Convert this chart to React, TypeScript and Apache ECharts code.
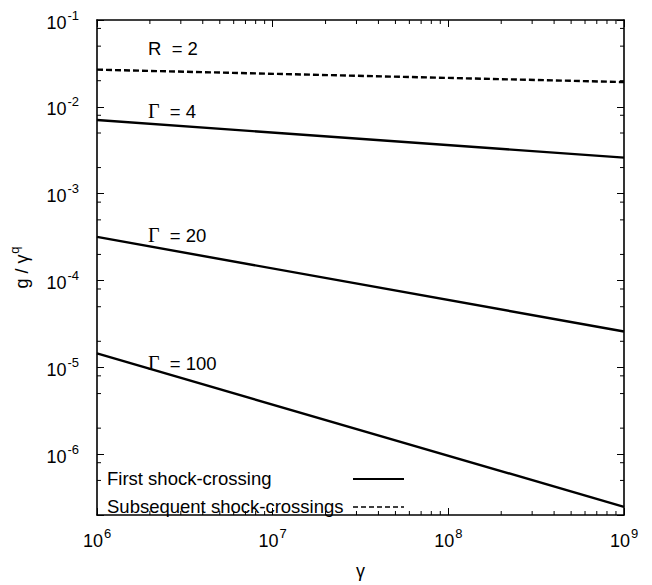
import React, { useEffect, useRef } from "react";
import * as echarts from "echarts";

const X_MIN = 1e6;
const X_MAX = 1e9;
const Y_MIN = 2e-7;
const Y_MAX = 1e-1;

const xEnds = [1e6, 1e9];
const r2Values = [0.0268, 0.0193];
const gamma4Values = [0.00706, 0.0026];
const gamma20Values = [3.18e-4, 2.59e-5];
const gamma100Values = [1.45e-5, 2.48e-7];

const xMinorTicks = [
  2e6, 3e6, 4e6, 5e6, 6e6, 7e6, 8e6, 9e6,
  2e7, 3e7, 4e7, 5e7, 6e7, 7e7, 8e7, 9e7,
  2e8, 3e8, 4e8, 5e8, 6e8, 7e8, 8e8, 9e8,
];
const yMinorTicks = [
  5e-7, 8e-7,
  2e-6, 5e-6, 8e-6,
  2e-5, 5e-5, 8e-5,
  2e-4, 5e-4, 8e-4,
  2e-3, 5e-3, 8e-3,
  2e-2, 5e-2, 8e-2,
];

const legendLabels = ["First shock-crossing", "Subsequent shock-crossings"];
const curveLabels = ["R  = 2", "{g|Γ}  = 4", "{g|Γ}  = 20", "{g|Γ}  = 100"];

const FONT = "Liberation Sans, Arial, Helvetica, sans-serif";

function logLabel(v: number) {
  const e = Math.log10(v);
  const r = Math.round(e);
  if (Math.abs(e - r) > 1e-6) return "";
  return `{b|10}{s|${r}}`;
}

const labelRich = {
  b: { fontSize: 18, fontFamily: FONT, color: "#000", verticalAlign: "bottom" },
  s: { fontSize: 13, fontFamily: FONT, color: "#000", verticalAlign: "bottom", padding: [0, 0, 10, 1] },
};

export default function App() {
  const ref = useRef<HTMLDivElement>(null);
  useEffect(() => {
    document.body.style.margin = "0";
    if (!ref.current) return;
    const chart = echarts.init(ref.current, null, { renderer: "svg" });
    const axisLine = { show: true, onZero: false, lineStyle: { color: "#000", width: 1.6 } };
    const makeLine = (name: string, vals: number[], dashed: boolean) => ({
      name,
      type: "line",
      xAxisIndex: 0,
      yAxisIndex: 0,
      showSymbol: false,
      symbol: "none",
      data: xEnds.map((x, i) => [x, vals[i]]),
      lineStyle: { color: "#000", width: 2.4, type: dashed ? [6, 3] : "solid" },
    });
    const option: any = {
      animation: false,
      grid: { left: 96, right: 28, top: 20, bottom: 57 },
      xAxis: [
        {
          type: "log",
          min: X_MIN,
          max: X_MAX,
          position: "bottom",
          axisLine,
          axisTick: { inside: true, length: 7, lineStyle: { color: "#000", width: 1 } },
          axisLabel: { formatter: logLabel, rich: labelRich, margin: 12 },
          splitLine: { show: false },
          name: "γ",
          nameLocation: "middle",
          nameGap: 47,
          nameTextStyle: { fontSize: 18, fontFamily: FONT, color: "#000" },
        },
        {
          type: "log",
          min: X_MIN,
          max: X_MAX,
          position: "top",
          axisLine,
          axisTick: { inside: true, length: 7, lineStyle: { color: "#000", width: 1 } },
          axisLabel: { show: false },
          splitLine: { show: false },
        },
      ],
      yAxis: [
        {
          type: "log",
          min: Y_MIN,
          max: Y_MAX,
          position: "left",
          axisLine,
          axisTick: { inside: true, length: 7, lineStyle: { color: "#000", width: 1 } },
          axisLabel: { formatter: logLabel, rich: labelRich, margin: 18 },
          splitLine: { show: false },
          name: "{n|g / γ}{s|q}",
          nameLocation: "middle",
          nameGap: 66,
          nameTextStyle: {
            rich: {
              n: { fontSize: 18, fontFamily: FONT, color: "#000", verticalAlign: "bottom" },
              s: { fontSize: 13, fontFamily: FONT, color: "#000", verticalAlign: "bottom", padding: [0, 0, 10, 1] },
            },
          },
        },
        {
          type: "log",
          min: Y_MIN,
          max: Y_MAX,
          position: "right",
          axisLine,
          axisTick: { inside: true, length: 7, lineStyle: { color: "#000", width: 1 } },
          axisLabel: { show: false },
          splitLine: { show: false },
        },
      ],
      series: [
        makeLine("R = 2", r2Values, true),
        makeLine("Γ = 4", gamma4Values, false),
        makeLine("Γ = 20", gamma20Values, false),
        makeLine("Γ = 100", gamma100Values, false),
        {
          type: "custom",
          xAxisIndex: 0,
          yAxisIndex: 0,
          silent: true,
          data: xMinorTicks.map((v) => [v, Y_MIN]),
          renderItem: (params: any, api: any) => {
            const v = api.value(0);
            const b = api.coord([v, Y_MIN]);
            const t = api.coord([v, Y_MAX]);
            const st = { stroke: "#000", lineWidth: 1 };
            return {
              type: "group",
              children: [
                { type: "line", shape: { x1: b[0], y1: b[1], x2: b[0], y2: b[1] - 4 }, style: st },
                { type: "line", shape: { x1: t[0], y1: t[1], x2: t[0], y2: t[1] + 4 }, style: st },
              ],
            };
          },
        },
        {
          type: "custom",
          xAxisIndex: 0,
          yAxisIndex: 0,
          silent: true,
          data: yMinorTicks.map((v) => [X_MIN, v]),
          renderItem: (params: any, api: any) => {
            const v = api.value(1);
            const l = api.coord([X_MIN, v]);
            const r = api.coord([X_MAX, v]);
            const st = { stroke: "#000", lineWidth: 1 };
            return {
              type: "group",
              children: [
                { type: "line", shape: { x1: l[0], y1: l[1], x2: l[0] + 4, y2: l[1] }, style: st },
                { type: "line", shape: { x1: r[0], y1: r[1], x2: r[0] - 4, y2: r[1] }, style: st },
              ],
            };
          },
        },
      ],
      graphic: [
        ...curveLabels.map((txt, i) => ({
          type: "text",
          left: 148,
          top: [39, 101, 225, 353][i],
          style: {
            text: txt,
            fill: "#000",
            font: `18.5px ${FONT}`,
            rich: {
              g: { fontSize: 20, fontFamily: "Liberation Serif, Times New Roman, serif", fill: "#000" },
            },
          },
        })),
        {
          type: "text",
          left: 107,
          top: 469,
          style: { text: legendLabels[0], fill: "#000", font: `18.5px ${FONT}` },
        },
        {
          type: "text",
          left: 107,
          top: 497,
          style: { text: legendLabels[1], fill: "#000", font: `18.5px ${FONT}` },
        },
        {
          type: "line",
          shape: { x1: 353, y1: 479, x2: 404, y2: 479 },
          style: { stroke: "#000", lineWidth: 2.2 },
        },
        {
          type: "line",
          shape: { x1: 353, y1: 507, x2: 404, y2: 507 },
          style: { stroke: "#000", lineWidth: 1.6, lineDash: [5, 3] },
        },
      ],
    };
    chart.setOption(option);
    return () => chart.dispose();
  }, []);
  return <div ref={ref} style={{ width: 652, height: 585 }} />;
}
